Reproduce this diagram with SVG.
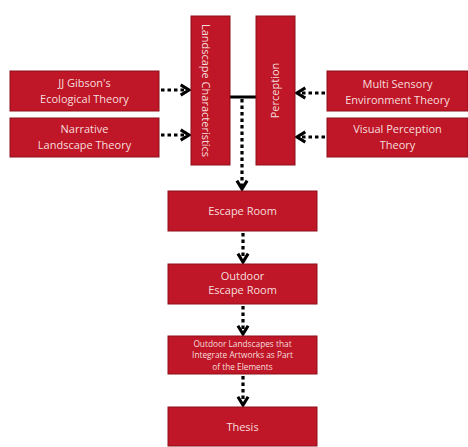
<svg xmlns="http://www.w3.org/2000/svg" width="468" height="447" viewBox="0 0 468 447">
<style>
.box{fill:#bf1727;stroke:#8c0f1b;stroke-width:1}
.t{font-family:"Open Sans","Noto Sans",sans-serif;font-size:11px;fill:#f6dede;text-anchor:middle}
.s{font-size:8.3px}
.dot{fill:none;stroke:#000;stroke-width:3.2;stroke-dasharray:3.5 3}
.solid{fill:none;stroke:#000;stroke-width:3}
</style>
<defs>
<marker id="ah" viewBox="0 0 10 10" refX="8" refY="5" markerWidth="4" markerHeight="4.4" orient="auto" markerUnits="strokeWidth">
<path d="M1.5,1 L8,5 L1.5,9" fill="none" stroke="#000" stroke-width="2.4"/>
</marker>
</defs>
<rect width="468" height="447" fill="#fff"/>
<g id="connectors">
<line class="dot" x1="161" y1="90" x2="189" y2="90" marker-end="url(#ah)"/>
<line class="dot" x1="161" y1="135" x2="189" y2="135" marker-end="url(#ah)"/>
<line class="dot" x1="325" y1="93" x2="297" y2="93" marker-end="url(#ah)"/>
<line class="dot" x1="325" y1="137" x2="297" y2="137" marker-end="url(#ah)"/>
<line class="solid" x1="230" y1="97" x2="256" y2="97"/>
<line class="dot" x1="242" y1="99" x2="242" y2="189" marker-end="url(#ah)"/>
<line class="dot" x1="243" y1="233" x2="243" y2="262" marker-end="url(#ah)"/>
<line class="dot" x1="243" y1="306" x2="243" y2="334" marker-end="url(#ah)"/>
<line class="dot" x1="243" y1="376" x2="243" y2="405" marker-end="url(#ah)"/>
</g>
<g id="landscape">
<rect class="box" x="191" y="16" width="39" height="149"/>
<text class="t" transform="translate(206,90.5) rotate(90)" dy="4">Landscape Characteristics</text>
</g>
<g id="perception">
<rect class="box" x="256" y="16" width="39" height="149"/>
<text class="t" transform="translate(279,90.5) rotate(-90)" dy="0">Perception</text>
</g>
<g id="gibson">
<rect class="box" x="10" y="71" width="149" height="40"/>
<text class="t" x="84.5" y="87">JJ Gibson's</text>
<text class="t" x="84.5" y="103">Ecological Theory</text>
</g>
<g id="narrative">
<rect class="box" x="10" y="118" width="149" height="39"/>
<text class="t" x="84.5" y="133">Narrative</text>
<text class="t" x="84.5" y="149">Landscape Theory</text>
</g>
<g id="multisensory">
<rect class="box" x="327" y="71" width="141" height="40"/>
<text class="t" x="397.5" y="88">Multi Sensory</text>
<text class="t" x="397.5" y="104">Environment Theory</text>
</g>
<g id="visual">
<rect class="box" x="327" y="118" width="141" height="39"/>
<text class="t" x="397.5" y="133">Visual Perception</text>
<text class="t" x="397.5" y="149">Theory</text>
</g>
<g id="escape">
<rect class="box" x="168" y="191" width="149" height="40"/>
<text class="t" x="242.5" y="214.5">Escape Room</text>
</g>
<g id="outdoor">
<rect class="box" x="168" y="264" width="149" height="40"/>
<text class="t" x="242.5" y="280">Outdoor</text>
<text class="t" x="242.5" y="294">Escape Room</text>
</g>
<g id="artworks">
<rect class="box" x="168" y="336" width="149" height="38"/>
<text class="t s" x="242.5" y="346.5">Outdoor Landscapes that</text>
<text class="t s" x="242.5" y="358">Integrate Artworks as Part</text>
<text class="t s" x="242.5" y="369.5">of the Elements</text>
</g>
<g id="thesis">
<rect class="box" x="168" y="407" width="149" height="39"/>
<text class="t" x="242.5" y="430.5">Thesis</text>
</g>
</svg>
